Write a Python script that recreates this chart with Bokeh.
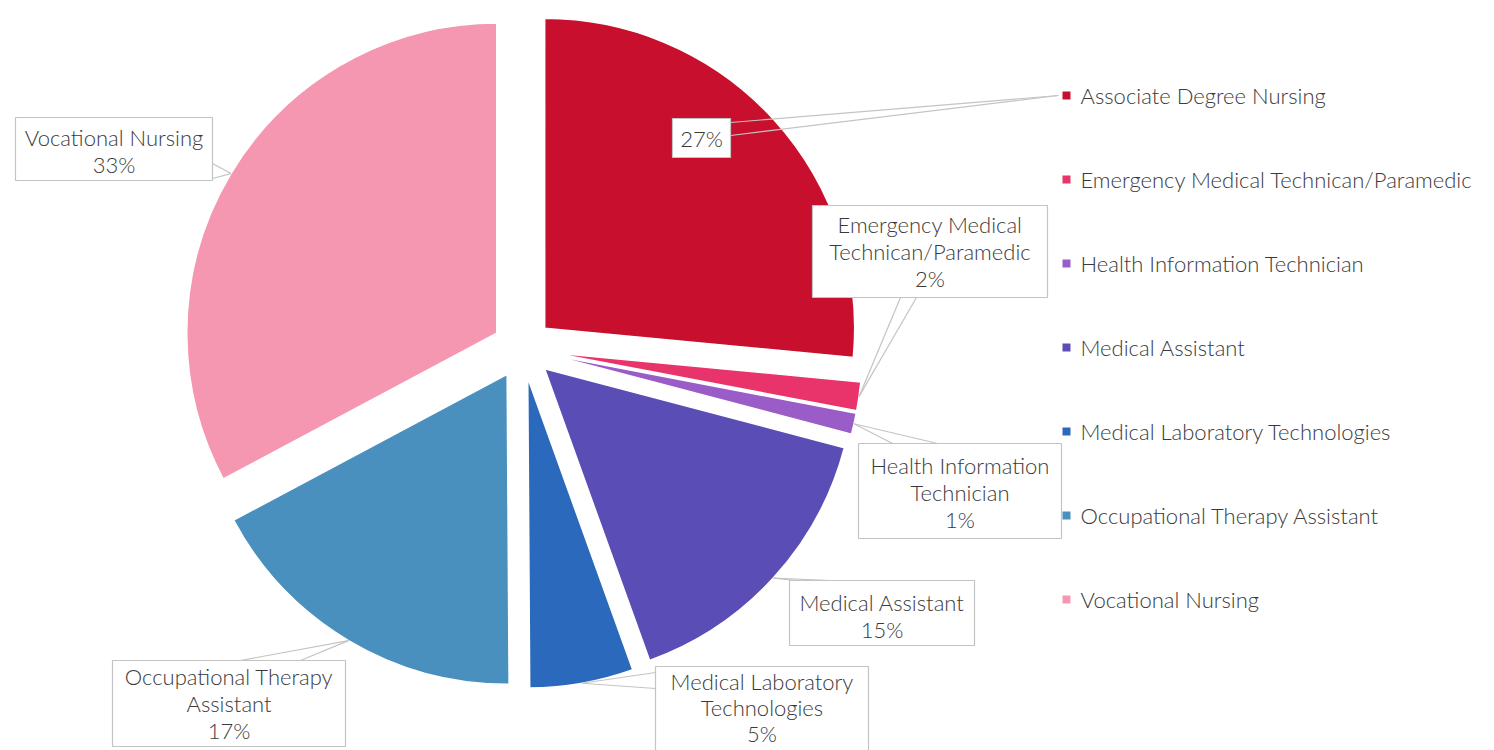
import math
from bokeh.plotting import figure
from bokeh.models import Range1d, ColumnDataSource
from bokeh.core.properties import value
from bokeh.embed import file_html
from bokeh.resources import INLINE

# ---------------- data ----------------
categories = [
    "Associate Degree Nursing",
    "Emergency Medical Technican/Paramedic",
    "Health Information Technician",
    "Medical Assistant",
    "Medical Laboratory Technologies",
    "Occupational Therapy Assistant",
    "Vocational Nursing",
]
shares = [26.5, 1.5, 1.1, 15.4, 5.4, 17.3, 32.8]  # percent
label_names = [
    [],
    ["Emergency Medical", "Technican/Paramedic"],
    ["Health Information", "Technician"],
    ["Medical Assistant"],
    ["Medical Laboratory", "Technologies"],
    ["Occupational Therapy", "Assistant"],
    ["Vocational Nursing"],
]
colors = ["#C8102E", "#E8336B", "#9A5CC6", "#5A4DB6", "#2A69BC", "#4A90BE", "#F597B1"]

# ---------------- layout (screen pixels of the reference) ----------------
W, H, M = 1494, 750, 0
def X(sx):
    return sx - M
def Y(sy):
    return (H + M) - sy

CX, CY, R, EXPLODE = 522, 348, 310, 30
FONT = value("Lato Light")
FONT_SIZE = "22px"
TXT = "#3a3a3a"
BORDER = "#c4c4c4"

# label boxes: (left, top, right, bottom), first text line centre y, line step
boxes = [
    (672, 118, 730, 157, 138, 27),
    (812, 205, 1047, 297, 224, 27),
    (858, 443, 1061, 538, 465, 27),
    (789, 580, 974, 645, 602, 27),
    (655, 666, 868, 752, 681, 26),
    (112, 660, 345, 746, 676, 27),
    (15, 117, 212, 180, 137, 27),
]
# callout pointer bases on the box edge
pointer_bases = [
    [(730, 122), (730, 135)],
    [(900, 297), (916, 297)],
    [(892, 443), (937, 443)],
    [(796, 580), (830, 580)],
    [(655, 672), (655, 688)],
    [(240, 660), (300, 660)],
    [(212, 163), (212, 178)],
]
LEG_X, LEG_Y0, LEG_DY = 1066, 95, 84

# ---------------- figure ----------------
p = figure(width=W, height=H, x_range=Range1d(0, W), y_range=Range1d(0, H),
           output_backend="svg", toolbar_location=None, min_border=0)
p.axis.visible = False
p.grid.visible = False
p.outline_line_color = None
p.background_fill_color = "white"

# wedges
xs, ys, sa, ea, tips = [], [], [], [], []
cum = 0.0
for v in shares:
    a0 = cum / 100 * 360
    a1 = (cum + v) / 100 * 360
    mid = math.radians((a0 + a1) / 2)
    ox = CX + EXPLODE * math.sin(mid)
    oy = CY - EXPLODE * math.cos(mid)
    xs.append(X(ox))
    ys.append(Y(oy))
    sa.append(math.radians(90 - a0))
    ea.append(math.radians(90 - a1))
    tips.append((ox + R * math.sin(mid), oy - R * math.cos(mid)))
    cum += v

src = ColumnDataSource(dict(x=xs, y=ys, s=sa, e=ea, c=colors, name=categories))
p.wedge(x="x", y="y", radius=R, start_angle="s", end_angle="e", direction="clock",
        fill_color="c", line_color="white", line_width=1.5, source=src)

# callout pointers
legend_tip_adn = (1058, 95)
for i, bases in enumerate(pointer_bases):
    tip = legend_tip_adn if i == 0 else tips[i]
    for bx, by in bases:
        p.line([X(bx), X(tip[0])], [Y(by), Y(tip[1])], line_color=BORDER, line_width=1.2)

# label boxes and texts
for i, (l, t, r, b, y0, step) in enumerate(boxes):
    p.quad(left=X(l), right=X(r), top=Y(t), bottom=Y(b),
           fill_color="white", line_color=BORDER, line_width=1.2)
    pct = "%d%%" % math.floor(shares[i] + 0.5)
    lines = label_names[i] + [pct]
    cx = (l + r) / 2
    p.text(x=[X(cx)] * len(lines), y=[Y(y0 + k * step) for k in range(len(lines))],
           text=lines, text_align="center", text_baseline="middle",
           text_font=FONT, text_font_size=FONT_SIZE, text_color=TXT)

# legend
leg_y = [Y(LEG_Y0 + k * LEG_DY) for k in range(len(categories))]
p.scatter(x=[X(LEG_X)] * len(categories), y=leg_y, marker="square", size=8,
          fill_color=colors, line_color=None)
p.text(x=[X(LEG_X + 14)] * len(categories), y=leg_y, text=categories,
       text_align="left", text_baseline="middle", text_font=FONT,
       text_font_size=FONT_SIZE, text_color=TXT)

open("out.html", "w").write(file_html(p, INLINE))
